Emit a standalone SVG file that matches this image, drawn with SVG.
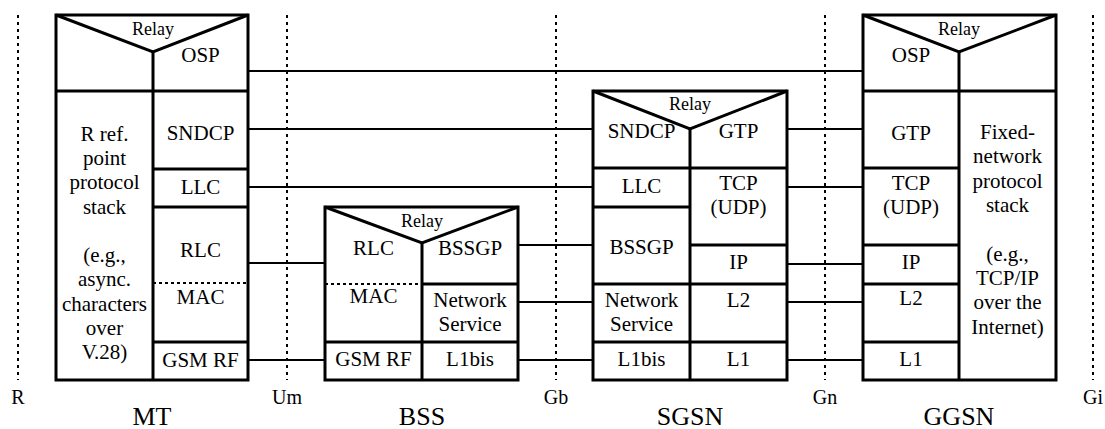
<svg xmlns="http://www.w3.org/2000/svg" width="1105" height="429" viewBox="0 0 1105 429" font-family="'Liberation Serif', 'Times New Roman', serif">
<style>
.box{fill:none;stroke:#000;stroke-width:3}
.ln{stroke:#000;stroke-width:3;fill:none}
.dl{stroke:#000;stroke-width:2;stroke-dasharray:3 3;fill:none}
.ref{stroke:#000;stroke-width:2;stroke-dasharray:3 4;fill:none}
.con{stroke:#000;stroke-width:2;fill:none}
text{font-family:'Liberation Serif','Times New Roman',serif;fill:#000;text-anchor:middle}
.t{font-size:21px}
.r{font-size:18px}
.lb{font-size:20px}
.nm{font-size:26px}
</style>
<g id="refpoints">
<line class="ref" x1="18" y1="15" x2="18" y2="380"/>
<line class="ref" x1="287" y1="15" x2="287" y2="380"/>
<line class="ref" x1="556" y1="15" x2="556" y2="380"/>
<line class="ref" x1="825" y1="15" x2="825" y2="380"/>
<line class="ref" x1="1093" y1="15" x2="1093" y2="380"/>
<text class="lb" x="18" y="404">R</text>
<text class="lb" x="287" y="404">Um</text>
<text class="lb" x="556" y="404">Gb</text>
<text class="lb" x="825" y="404">Gn</text>
<text class="lb" x="1093" y="404">Gi</text>
</g>
<g id="connectors">
<line class="con" x1="248" y1="71" x2="863" y2="71"/>
<line class="con" x1="248" y1="129" x2="593" y2="129"/>
<line class="con" x1="248" y1="187" x2="593" y2="187"/>
<line class="con" x1="248" y1="263" x2="325" y2="263"/>
<line class="con" x1="248" y1="360" x2="325" y2="360"/>
<line class="con" x1="518" y1="245" x2="593" y2="245"/>
<line class="con" x1="518" y1="302" x2="593" y2="302"/>
<line class="con" x1="518" y1="360" x2="593" y2="360"/>
<line class="con" x1="787" y1="129" x2="863" y2="129"/>
<line class="con" x1="787" y1="187" x2="863" y2="187"/>
<line class="con" x1="787" y1="264" x2="863" y2="264"/>
<line class="con" x1="787" y1="302" x2="863" y2="302"/>
<line class="con" x1="787" y1="360" x2="863" y2="360"/>
</g>
<g id="MT">
<rect class="box" x="56" y="15" width="192" height="365"/>
<polyline class="ln" points="56,15 153,52 248,15"/>
<line class="ln" x1="153" y1="52" x2="153" y2="380"/>
<line class="ln" x1="56" y1="91" x2="248" y2="91"/>
<line class="ln" x1="153" y1="169" x2="248" y2="169"/>
<line class="ln" x1="153" y1="207" x2="248" y2="207"/>
<line class="dl" x1="153" y1="283" x2="248" y2="283"/>
<line class="ln" x1="153" y1="342" x2="248" y2="342"/>
<text class="r" x="153" y="35">Relay</text>
<text class="t" x="200.5" y="62">OSP</text>
<text class="t" x="200.5" y="140">SNDCP</text>
<text class="t" x="200.5" y="194">LLC</text>
<text class="t" x="200.5" y="257">RLC</text>
<text class="t" x="200.5" y="304">MAC</text>
<text class="t" x="200.5" y="367">GSM RF</text>
<text class="t" x="104.5" y="140.6">R ref.</text>
<text class="t" x="104.5" y="164.9">point</text>
<text class="t" x="104.5" y="189.2">protocol</text>
<text class="t" x="104.5" y="213.5">stack</text>
<text class="t" x="104.5" y="262.1">(e.g.,</text>
<text class="t" x="104.5" y="286.4">async.</text>
<text class="t" x="104.5" y="310.7">characters</text>
<text class="t" x="104.5" y="335">over</text>
<text class="t" x="104.5" y="359.3">V.28)</text>
<text class="nm" x="152" y="425">MT</text>
</g>
<g id="BSS">
<rect class="box" x="325" y="207" width="193" height="173"/>
<polyline class="ln" points="325,207 422,243 518,207"/>
<line class="ln" x1="422" y1="243" x2="422" y2="380"/>
<line class="dl" x1="325" y1="284" x2="422" y2="284"/>
<line class="ln" x1="422" y1="284" x2="518" y2="284"/>
<line class="ln" x1="325" y1="342" x2="518" y2="342"/>
<text class="r" x="422" y="227">Relay</text>
<text class="t" x="373.5" y="255">RLC</text>
<text class="t" x="470" y="255">BSSGP</text>
<text class="t" x="373.5" y="303">MAC</text>
<text class="t" x="470" y="307">Network</text>
<text class="t" x="470" y="331">Service</text>
<text class="t" x="373.5" y="366">GSM RF</text>
<text class="t" x="470" y="366">L1bis</text>
<text class="nm" x="422" y="425">BSS</text>
</g>
<g id="SGSN">
<rect class="box" x="593" y="91" width="194" height="289"/>
<polyline class="ln" points="593,91 690,129 787,91"/>
<line class="ln" x1="690" y1="129" x2="690" y2="380"/>
<line class="ln" x1="593" y1="168" x2="787" y2="168"/>
<line class="ln" x1="593" y1="207" x2="690" y2="207"/>
<line class="ln" x1="690" y1="245" x2="787" y2="245"/>
<line class="ln" x1="593" y1="284" x2="787" y2="284"/>
<line class="ln" x1="593" y1="342" x2="787" y2="342"/>
<text class="r" x="690" y="110">Relay</text>
<text class="t" x="641.5" y="138">SNDCP</text>
<text class="t" x="738.5" y="138">GTP</text>
<text class="t" x="641.5" y="193">LLC</text>
<text class="t" x="738.5" y="190">TCP</text>
<text class="t" x="738.5" y="214">(UDP)</text>
<text class="t" x="641.5" y="254">BSSGP</text>
<text class="t" x="738.5" y="269">IP</text>
<text class="t" x="641.5" y="307">Network</text>
<text class="t" x="641.5" y="331">Service</text>
<text class="t" x="738.5" y="307">L2</text>
<text class="t" x="641.5" y="366">L1bis</text>
<text class="t" x="738.5" y="366">L1</text>
<text class="nm" x="690" y="425">SGSN</text>
</g>
<g id="GGSN">
<rect class="box" x="863" y="15" width="193" height="365"/>
<polyline class="ln" points="863,15 959,52 1056,15"/>
<line class="ln" x1="959" y1="52" x2="959" y2="380"/>
<line class="ln" x1="863" y1="91" x2="1056" y2="91"/>
<line class="ln" x1="863" y1="168" x2="959" y2="168"/>
<line class="ln" x1="863" y1="245" x2="959" y2="245"/>
<line class="ln" x1="863" y1="284" x2="959" y2="284"/>
<line class="ln" x1="863" y1="342" x2="959" y2="342"/>
<text class="r" x="959" y="35">Relay</text>
<text class="t" x="911" y="62">OSP</text>
<text class="t" x="911" y="140">GTP</text>
<text class="t" x="911" y="190">TCP</text>
<text class="t" x="911" y="214">(UDP)</text>
<text class="t" x="911" y="269">IP</text>
<text class="t" x="911" y="305">L2</text>
<text class="t" x="911" y="366">L1</text>
<text class="t" x="1007.5" y="139">Fixed-</text>
<text class="t" x="1007.5" y="163.4">network</text>
<text class="t" x="1007.5" y="187.7">protocol</text>
<text class="t" x="1007.5" y="212">stack</text>
<text class="t" x="1007.5" y="260.6">(e.g.,</text>
<text class="t" x="1007.5" y="285">TCP/IP</text>
<text class="t" x="1007.5" y="309.3">over the</text>
<text class="t" x="1007.5" y="333.6">Internet)</text>
<text class="nm" x="959" y="425">GGSN</text>
</g>
</svg>
